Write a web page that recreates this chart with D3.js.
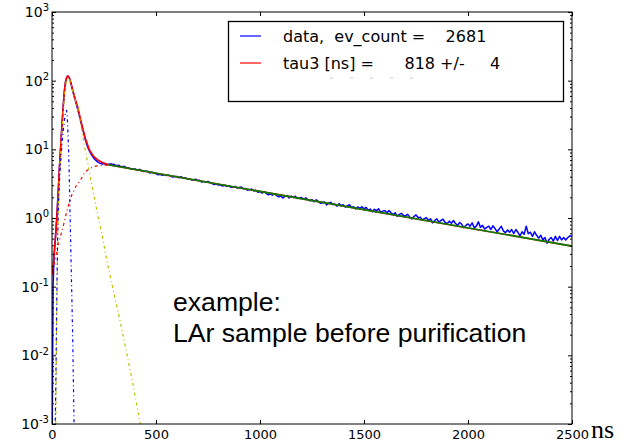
<!DOCTYPE html>
<html>
<head>
<meta charset="utf-8">
<script src="https://cdn.jsdelivr.net/npm/d3@7/dist/d3.min.js"></script>
<style>
    body { margin: 0; background: #fff; }
    #chart { width: 623px; height: 443px; }
</style>
</head>
<body>
<div id="chart"></div>
<script>
// ---- data (ns, counts) ----
const peakTimes = d3.range(0, 300, 5);
const peakCounts = [
    0.0002, 0.1, 0.28, 0.45, 0.75, 1.3, 2.5, 5, 9, 16,
    28, 47, 72, 96, 110, 117, 114, 106, 95, 82,
    71, 61, 54, 48, 42, 37, 32, 28, 24.5, 21,
    18.5, 16, 14, 12.5, 11.2, 10.2, 9.5, 8.9, 8.4, 7.9,
    7.5, 7.2, 6.95, 6.75, 6.55, 6.4, 6.3, 6.2, 6.15, 6.1,
    6.2, 6.1, 6.0, 6.05, 6.0, 6.1, 6.05, 6.15, 6.0, 6.05
];
const tailTimes = d3.range(300, 2510, 10);
const tailCounts = [
    5.97, 5.78, 5.88, 5.59, 5.63, 5.62, 5.33, 5.38, 5.16, 5.19,
    5.18, 4.97, 5.11, 4.95, 4.74, 4.78, 4.81, 4.52, 4.66, 4.55,
    4.40, 4.26, 4.34, 4.20, 4.28, 4.15, 4.22, 4.09, 3.96, 4.03,
    4.02, 3.85, 4.00, 3.83, 3.87, 3.70, 3.74, 3.58, 3.61, 3.67,
    3.52, 3.55, 3.33, 3.42, 3.32, 3.41, 3.27, 3.17, 3.06, 3.12,
    3.02, 3.04, 2.92, 3.00, 2.90, 2.96, 2.80, 2.83, 2.88, 2.73,
    2.78, 2.83, 2.66, 2.70, 2.54, 2.59, 2.64, 2.48, 2.53, 2.37,
    2.42, 2.31, 2.43, 2.28, 2.18, 2.24, 2.15, 2.26, 2.12, 2.03,
    2.10, 1.96, 2.07, 2.12, 1.96, 2.09, 1.99, 2.08, 1.92, 1.95,
    1.99, 1.87, 1.97, 1.86, 1.77, 1.85, 1.73, 1.84, 1.75, 1.64,
    1.66, 1.72, 1.55, 1.65, 1.69, 1.57, 1.60, 1.49, 1.62, 1.51,
    1.56, 1.44, 1.50, 1.56, 1.42, 1.46, 1.35, 1.45, 1.38, 1.46,
    1.36, 1.43, 1.30, 1.35, 1.23, 1.34, 1.28, 1.36, 1.22, 1.26,
    1.28, 1.19, 1.28, 1.19, 1.12, 1.19, 1.06, 1.13, 1.17, 1.08,
    1.08, 1.13, 1.03, 0.97, 1.05, 1.11, 1.01, 1.03, 0.94, 0.98,
    1.01, 0.93, 0.97, 0.85, 0.92, 0.97, 0.87, 0.92, 0.96, 0.86,
    0.83, 0.90, 0.84, 0.92, 0.83, 0.78, 0.86, 0.81, 0.72, 0.78,
    0.82, 0.76, 0.85, 0.72, 0.76, 0.88, 0.73, 0.78, 0.69, 0.73,
    0.76, 0.68, 0.77, 0.70, 0.63, 0.69, 0.76, 0.65, 0.61, 0.67,
    0.62, 0.68, 0.59, 0.68, 0.62, 0.55, 0.63, 0.58, 0.76, 0.59,
    0.62, 0.54, 0.63, 0.56, 0.51, 0.56, 0.48, 0.52, 0.43, 0.49,
    0.52, 0.46, 0.54, 0.47, 0.54, 0.48, 0.52, 0.48, 0.52, 0.55,
    0.54
];

// full fit (red)
const fitTimes  = [0, 5, 10, 15, 20, 25, 30, 35, 40, 45, 50, 55, 60, 65, 70, 77, 85, 100, 115, 125, 140, 160, 180, 200, 220, 240, 270, 500, 1000, 1500, 2000, 2500];
const fitCounts = [0.15, 0.2, 0.3, 0.45, 0.7, 1.2, 2.4, 4.8, 9, 16, 28, 47, 72, 95, 110, 117, 108, 72, 50, 40, 25, 14.5, 9.8, 7.9, 7.0, 6.5, 5.95, 4.49, 2.44, 1.32, 0.717, 0.389];

// slow tail (green)
const slowTimes  = [270, 2500];
const slowCounts = [5.95, 0.389];

// slow component with rise (red dash-dot)
const riseTimes  = [0, 15, 29, 53, 75, 96, 115, 135, 159, 183, 210, 240, 270];
const riseCounts = [0.15, 0.25, 0.4, 0.74, 1.4, 2.2, 2.9, 3.5, 4.7, 5.3, 5.7, 5.85, 5.9];

// fast component (yellow dash-dot)
const fastTimes  = [18, 21, 24, 27, 30, 35, 40, 45, 50, 55, 60, 65, 70, 77, 85, 100, 115, 125, 140, 159, 175, 190, 207, 221, 240, 255, 269, 288, 337, 385, 423, 440];
const fastCounts = [0.001, 0.01, 0.08, 0.4, 1.2, 3.5, 7, 13, 22, 38, 60, 82, 100, 112, 104, 70, 48, 38, 22, 10, 5.6, 3.2, 1.75, 1.05, 0.6, 0.33, 0.2, 0.11, 0.023, 0.0044, 0.00107, 0.0005];

// prompt component (blue dash-dot)
const promptTimes  = [15, 18, 21, 24, 27, 30, 35, 40, 45, 50, 55, 60, 65, 70, 73, 76, 80, 83, 86, 90, 95, 100, 106, 110];
const promptCounts = [0.0008, 0.003, 0.02, 0.12, 0.5, 1.2, 3, 5.5, 9, 14, 20, 27, 34, 37, 32, 20, 9, 4, 1.5, 0.4, 0.08, 0.015, 0.001, 0.0003];

const xTicks = [0, 500, 1000, 1500, 2000, 2500];
const yDecades = [-3, -2, -1, 0, 1, 2, 3];
const legendLabels = ["data,  ev_count =    2681", "tau3 [ns] =      818 +/-     4"];
const noteLines = ["example:", "LAr sample before purification"];

class decayVis {
    constructor(parentElement) {
        this.parentElement = parentElement;
        this.initVis();
    }

    initVis() {
        let vis = this;

        vis.margin = {top: 12, right: 51, bottom: 19, left: 52};
        vis.width = 623 - vis.margin.left - vis.margin.right;
        vis.height = 443 - vis.margin.top - vis.margin.bottom;

        vis.root = d3.select("#" + vis.parentElement)
            .append("svg")
            .attr("width", 623)
            .attr("height", 443);

        vis.svg = vis.root.append("g")
            .attr("transform", `translate(${vis.margin.left}, ${vis.margin.top})`);

        vis.svg.append("clipPath").attr("id", "plot-clip")
            .append("rect").attr("width", vis.width).attr("height", vis.height);

        vis.x = d3.scaleLinear().domain([0, 2500]).range([0, vis.width]);
        vis.y = d3.scaleLog().domain([1e-3, 1e3]).range([vis.height, 0]);

        vis.wrangleData();
    }

    wrangleData() {
        let vis = this;
        const pairs = (ts, vs) => ts.map((t, i) => [t, vs[i]]);

        vis.data = pairs(peakTimes, peakCounts).concat(pairs(tailTimes, tailCounts));
        vis.fit = pairs(fitTimes, fitCounts);
        vis.slow = pairs(slowTimes, slowCounts);
        vis.rise = pairs(riseTimes, riseCounts);
        vis.fast = pairs(fastTimes, fastCounts);
        vis.prompt = pairs(promptTimes, promptCounts);

        vis.majors = yDecades.map(e => Math.pow(10, e));
        vis.minors = [];
        yDecades.slice(0, -1).forEach(e => {
            for (let m = 2; m < 10; m++) vis.minors.push(m * Math.pow(10, e));
        });

        vis.updateVis();
    }

    updateVis() {
        let vis = this;

        const line = d3.line()
            .x(d => vis.x(d[0]))
            .y(d => vis.y(d[1]));

        const plot = vis.svg.append("g").attr("clip-path", "url(#plot-clip)");

        const draw = (data, color, width, dash) => {
            plot.append("path")
                .datum(data)
                .attr("fill", "none")
                .attr("stroke", color)
                .attr("stroke-width", width)
                .attr("stroke-linejoin", "round")
                .attr("stroke-dasharray", dash || null)
                .attr("d", line);
        };

        draw(vis.data, "#0000ff", 1.5);
        draw(vis.fit, "#ff0000", 1.6);
        draw(vis.slow, "#008000", 1.6);
        draw(vis.rise, "#ff0000", 1.2, "3,3,1,3");
        draw(vis.fast, "#bfbf00", 1.2, "3,3,1,3");
        draw(vis.prompt, "#0000ff", 1.2, "3,3,1,3");

        // axes, ticks pointing inward
        const yLeft = vis.svg.append("g")
            .call(d3.axisLeft(vis.y).tickValues(vis.majors).tickSize(-4).tickSizeOuter(0).tickPadding(3).tickFormat(() => "10"));
        yLeft.selectAll(".tick text")
            .style("font-size", "14px")
            .style("font-family", "'DejaVu Sans', sans-serif")
            .attr("fill", "#000")
            .append("tspan")
            .attr("dy", "-0.55em")
            .style("font-size", "10px")
            .text(d => String(Math.round(Math.log10(d))));

        vis.svg.append("g")
            .call(d3.axisLeft(vis.y).tickValues(vis.minors).tickSize(-2).tickSizeOuter(0).tickFormat(""));

        vis.svg.append("g")
            .attr("transform", `translate(${vis.width}, 0)`)
            .call(d3.axisRight(vis.y).tickValues(vis.majors).tickSize(-4).tickSizeOuter(0).tickFormat(""));
        vis.svg.append("g")
            .attr("transform", `translate(${vis.width}, 0)`)
            .call(d3.axisRight(vis.y).tickValues(vis.minors).tickSize(-2).tickSizeOuter(0).tickFormat(""));

        const xBottom = vis.svg.append("g")
            .attr("transform", `translate(0, ${vis.height})`)
            .call(d3.axisBottom(vis.x).tickValues(xTicks).tickSize(-4).tickSizeOuter(0).tickPadding(6).tickFormat(d3.format("d")));
        xBottom.selectAll(".tick text")
            .style("font-size", "13px")
            .style("font-family", "'DejaVu Sans', sans-serif")
            .attr("fill", "#000");

        vis.svg.append("g")
            .call(d3.axisTop(vis.x).tickValues(xTicks).tickSize(-4).tickSizeOuter(0).tickFormat(""));

        vis.svg.selectAll(".domain").remove();
        vis.svg.selectAll(".tick line").attr("stroke", "#000");

        vis.svg.append("rect")
            .attr("width", vis.width)
            .attr("height", vis.height)
            .attr("fill", "none")
            .attr("stroke", "#000")
            .attr("stroke-width", 1);

        // unit label
        vis.root.append("text")
            .attr("x", 591)
            .attr("y", 438)
            .style("font-family", "'Liberation Serif', 'DejaVu Serif', serif")
            .style("font-size", "26px")
            .text("ns");

        // note
        vis.root.append("g").selectAll("text")
            .data(noteLines)
            .join("text")
            .attr("x", 173)
            .attr("y", (d, i) => 311 + i * 31)
            .style("font-family", "'Liberation Sans', Arial, sans-serif")
            .style("font-size", "26.6px")
            .text(d => d);

        // legend
        const legend = vis.root.append("g");
        legend.append("rect")
            .attr("x", 228.5).attr("y", 21.5)
            .attr("width", 335).attr("height", 80)
            .attr("fill", "#fff")
            .attr("stroke", "#000")
            .attr("stroke-width", 1.3);

        const colors = ["#0000ff", "#ff0000"];
        legendLabels.forEach((label, i) => {
            const ly = 36 + i * 27;
            legend.append("line")
                .attr("x1", 240).attr("x2", 261)
                .attr("y1", ly).attr("y2", ly)
                .attr("stroke", colors[i]).attr("stroke-width", 1.2);
            legend.append("text")
                .attr("x", 283).attr("y", ly)
                .attr("dy", "0.36em")
                .style("font-size", "16px")
                .style("font-family", "'DejaVu Sans', sans-serif")
                .style("white-space", "pre")
                .text(label);
        });
        // faint leftover third entry
        legend.append("line")
            .attr("x1", 330).attr("x2", 422)
            .attr("y1", 78).attr("y2", 78)
            .attr("stroke", "#cccccc").attr("stroke-width", 1)
            .attr("stroke-dasharray", "3,17");
    }
}

new decayVis("chart");
</script>
</body>
</html>
